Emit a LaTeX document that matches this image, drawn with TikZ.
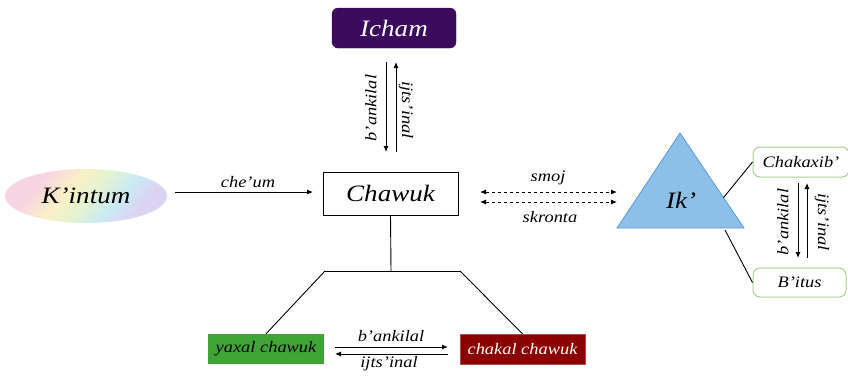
\documentclass[tikz,border=0pt]{standalone}
\usepackage{fontspec}
\usepackage{graphicx}
\setmainfont{Liberation Serif}[ItalicFont={Liberation Serif Italic}]
\usetikzlibrary{arrows.meta,calc,shapes.geometric}
\definecolor{ichamc}{HTML}{3C0A5C}
\definecolor{yaxalc}{HTML}{3FA535}
\definecolor{chakalc}{HTML}{8B0000}
\definecolor{trifill}{HTML}{8CC0E8}
\definecolor{triedge}{HTML}{5B9BD5}
\definecolor{greenedge}{HTML}{A9D18E}
\definecolor{rp1}{HTML}{F8D3E2}
\definecolor{rp2}{HTML}{FAF0C6}
\definecolor{rp3}{HTML}{E3F3D2}
\definecolor{rp4}{HTML}{C9EAF5}
\definecolor{rp5}{HTML}{DCD3F2}
\pgfdeclarehorizontalshading{pastelrainbow}{100bp}{color(0bp)=(rp1); color(30bp)=(rp1); color(42bp)=(rp2); color(52bp)=(rp3); color(62bp)=(rp4); color(72bp)=(rp5); color(100bp)=(rp5)}
\newcommand{\st}[1]{\scalebox{1.15}[1]{#1}}
\begin{document}
\begin{tikzpicture}[x=1pt,y=-1pt,
  big/.style={font=\fontsize{23.5}{26}\selectfont\itshape},
  small/.style={font=\fontsize{16}{18}\selectfont\itshape},
  lbl/.style={small, inner sep=0pt},
  line/.style={line width=0.9pt},
  arr/.style={-{Latex[length=6pt,width=5pt]}, line width=0.9pt},
  darr/.style={{Latex[length=6pt,width=5pt]}-{Latex[length=6pt,width=5pt]}, line width=0.9pt, dashed},
  box/.style={draw, inner sep=0pt, line width=0.9pt}]
\useasboundingbox (0,0) rectangle (848,376);

% nodes
\node[box, big, fill=white, minimum width=135, minimum height=43] (chawuk) at (390.5,193.5) {\st{Chawuk}};
\node[inner sep=0pt, big, text=white, fill=ichamc, draw=ichamc, rounded corners=6pt, minimum width=124, minimum height=40] (icham) at (394,28) {\st{Icham}};
\node[ellipse, inner sep=0pt, big, shading=pastelrainbow, shading angle=-40, minimum width=162, minimum height=54] (kintum) at (86,196) {\st{K’intum}};
\node[inner sep=0pt, small, fill=yaxalc, minimum width=116, minimum height=30] (yaxal) at (266,349) {\st{yaxal chawuk}};
\node[inner sep=0pt, small, text=white, fill=chakalc, draw=chakalc!70!white, minimum width=125, minimum height=30] (chakal) at (522.5,349) {\st{chakal chawuk}};
\node[inner sep=0pt, small, fill=white, draw=greenedge, line width=1pt, rounded corners=7pt, minimum width=96, minimum height=30] (chak) at (801,162) {\st{Chakaxib’}};
\node[inner sep=0pt, small, fill=white, draw=greenedge, line width=1pt, rounded corners=7pt, minimum width=93, minimum height=29] (bitus) at (799.5,282.5) {\st{B’itus}};

% triangle
\coordinate (ta) at (680,133);
\coordinate (tl) at (617,228);
\coordinate (tr) at (744,228);
\draw[fill=trifill, draw=triedge, line width=0.8pt] (ta) -- (tr) -- (tl) -- cycle;
\node[big, inner sep=0pt] (ik) at (681,200) {\st{Ik’}};
\coordinate (te1) at ($(ta)!0.68!(tr)$);
\coordinate (te2) at (725,230);
\draw[line] (te1) -- (chak.west);
\draw[line] (te2) -- (bitus.west);

% Icham <-> Chawuk
\coordinate (ia1) at (386,62);
\coordinate (ia2) at (386,152);
\coordinate (ib1) at (396,152);
\coordinate (ib2) at (396,62);
\draw[arr] (ia1) -- (ia2);
\draw[arr] (ib1) -- (ib2);
\node[lbl, rotate=90] (l1) at (371,108) {\st{b’ankilal}};
\node[lbl, rotate=-90] (l2) at (406,110) {\st{ijts’inal}};

% K'intum -> Chawuk
\coordinate (ka) at (175,192);
\coordinate (kb) at (313,192);
\draw[arr] (ka) -- (kb);
\node[lbl] (l3) at (248,182) {\st{che’um}};

% Chawuk <-> Ik'
\coordinate (da1) at (480,192);
\coordinate (da2) at (617,192);
\coordinate (db1) at (480,202);
\coordinate (db2) at (617,202);
\draw[darr] (da1) -- (da2);
\draw[darr] (db1) -- (db2);
\node[lbl] (l4) at (548,178) {\st{smoj}};
\node[lbl] (l5) at (550,217) {\st{skronta}};

% tree
\coordinate (j) at (391,271);
\coordinate (jl) at (325,271);
\coordinate (jr) at (460,271);
\draw[line] (chawuk.south) -- (j);
\draw[line] (jl) -- (jr);
\draw[line] (jl) -- (yaxal.north);
\draw[line] (jr) -- (chakal.north);

% yaxal <-> chakal
\coordinate (ya1) at (335,347);
\coordinate (ya2) at (448,347);
\coordinate (yb1) at (448,354);
\coordinate (yb2) at (335,354);
\draw[arr] (ya1) -- (ya2);
\draw[arr] (yb1) -- (yb2);
\node[lbl] (l6) at (391,336) {\st{b’ankilal}};
\node[lbl] (l7) at (389,364) {\st{ijts’inal}};

% Chakaxib' <-> B'itus
\coordinate (ca1) at (798,183);
\coordinate (ca2) at (798,258);
\coordinate (cb1) at (807,258);
\coordinate (cb2) at (807,183);
\draw[arr] (ca1) -- (ca2);
\draw[arr] (cb1) -- (cb2);
\node[lbl, rotate=90] (l8) at (783,222) {\st{b’ankilal}};
\node[lbl, rotate=-90] (l9) at (822,222) {\st{ijts’inal}};
\end{tikzpicture}
\end{document}
